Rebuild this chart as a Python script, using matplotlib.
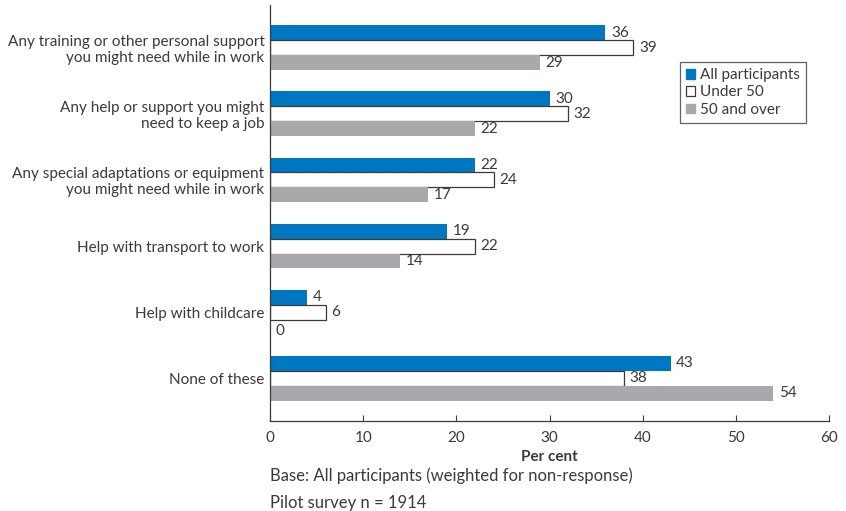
import matplotlib
matplotlib.use("Agg")
import matplotlib.pyplot as plt
import numpy as np
from matplotlib.patches import Patch

categories = [
    "Any training or other personal support\nyou might need while in work",
    "Any help or support you might\nneed to keep a job",
    "Any special adaptations or equipment\nyou might need while in work",
    "Help with transport to work",
    "Help with childcare",
    "None of these",
]
all_participants = [36, 30, 22, 19, 4, 43]
under_50 = [39, 32, 24, 22, 6, 38]
over_50 = [29, 22, 17, 14, 0, 54]
series_names = ["All participants", "Under 50", "50 and over"]
x_ticks = [0, 10, 20, 30, 40, 50, 60]

plt.rcParams["font.family"] = ["Lato", "DejaVu Sans"]
text_color = "#3a3a3a"
blue = "#0077c2"
grey = "#a7a9ac"
fs = 11

fig = plt.figure(figsize=(8.46, 5.11), dpi=100)
ax = fig.add_axes([270 / 846, 1 - 421 / 511, (829 - 270) / 846, 416 / 511])

y = np.arange(len(categories))
h = 0.227
series = [all_participants, under_50, over_50]
offsets = [-h, 0, h]
styles = [dict(color=blue), dict(color="white", edgecolor="#3a3a3a", linewidth=0.9),
          dict(color=grey)]
for vals, off, st in zip(series, offsets, styles):
    ax.barh(y + off, vals, height=h, **st)
    for yi, v in zip(y, vals):
        dy = 0.06 if v == 0 else 0.0
        ax.text(v + 0.6, yi + off + dy, str(v), va="center", ha="left",
                fontsize=fs, color=text_color)

ax.set_ylim(5.65, -0.65)
ax.set_xlim(0, 60)
ax.set_xticks(x_ticks)
ax.set_xticklabels([str(t) for t in x_ticks])
ax.set_yticks(y)
ax.set_yticklabels(categories, fontsize=fs, color=text_color, linespacing=1.15)
ax.tick_params(axis="y", length=0, pad=4)
ax.tick_params(axis="x", direction="in", length=4, colors="#3a3a3a",
               labelcolor=text_color, labelsize=fs, pad=7)
for s in ["top", "right"]:
    ax.spines[s].set_visible(False)
for s in ["left", "bottom"]:
    ax.spines[s].set_color("#3a3a3a")
    ax.spines[s].set_linewidth(0.9)

ax.set_xlabel("Per cent", fontsize=fs, color=text_color, fontweight="bold", labelpad=4)

handles = [Patch(facecolor=blue, edgecolor=blue),
           Patch(facecolor="white", edgecolor="#3a3a3a", linewidth=0.9),
           Patch(facecolor=grey, edgecolor=grey)]
leg = ax.legend(handles, series_names, loc="upper left",
                bbox_to_anchor=((680 - 270) / 559, 1 - (62 - 5) / 416),
                fontsize=fs, frameon=True, fancybox=False, handlelength=0.6,
                handleheight=0.6, handletextpad=0.3, borderpad=0.4,
                labelspacing=0.22, borderaxespad=0)
leg.get_frame().set_edgecolor("#3a3a3a")
leg.get_frame().set_linewidth(0.9)
for t in leg.get_texts():
    t.set_color(text_color)

fig.text(270 / 846, 1 - 476 / 511, "Base: All participants (weighted for non-response)",
         fontsize=12, color=text_color, va="center", ha="left")
fig.text(270 / 846, 1 - 503 / 511, "Pilot survey n = 1914",
         fontsize=12, color=text_color, va="center", ha="left")

fig.savefig("out.png", dpi=100)
